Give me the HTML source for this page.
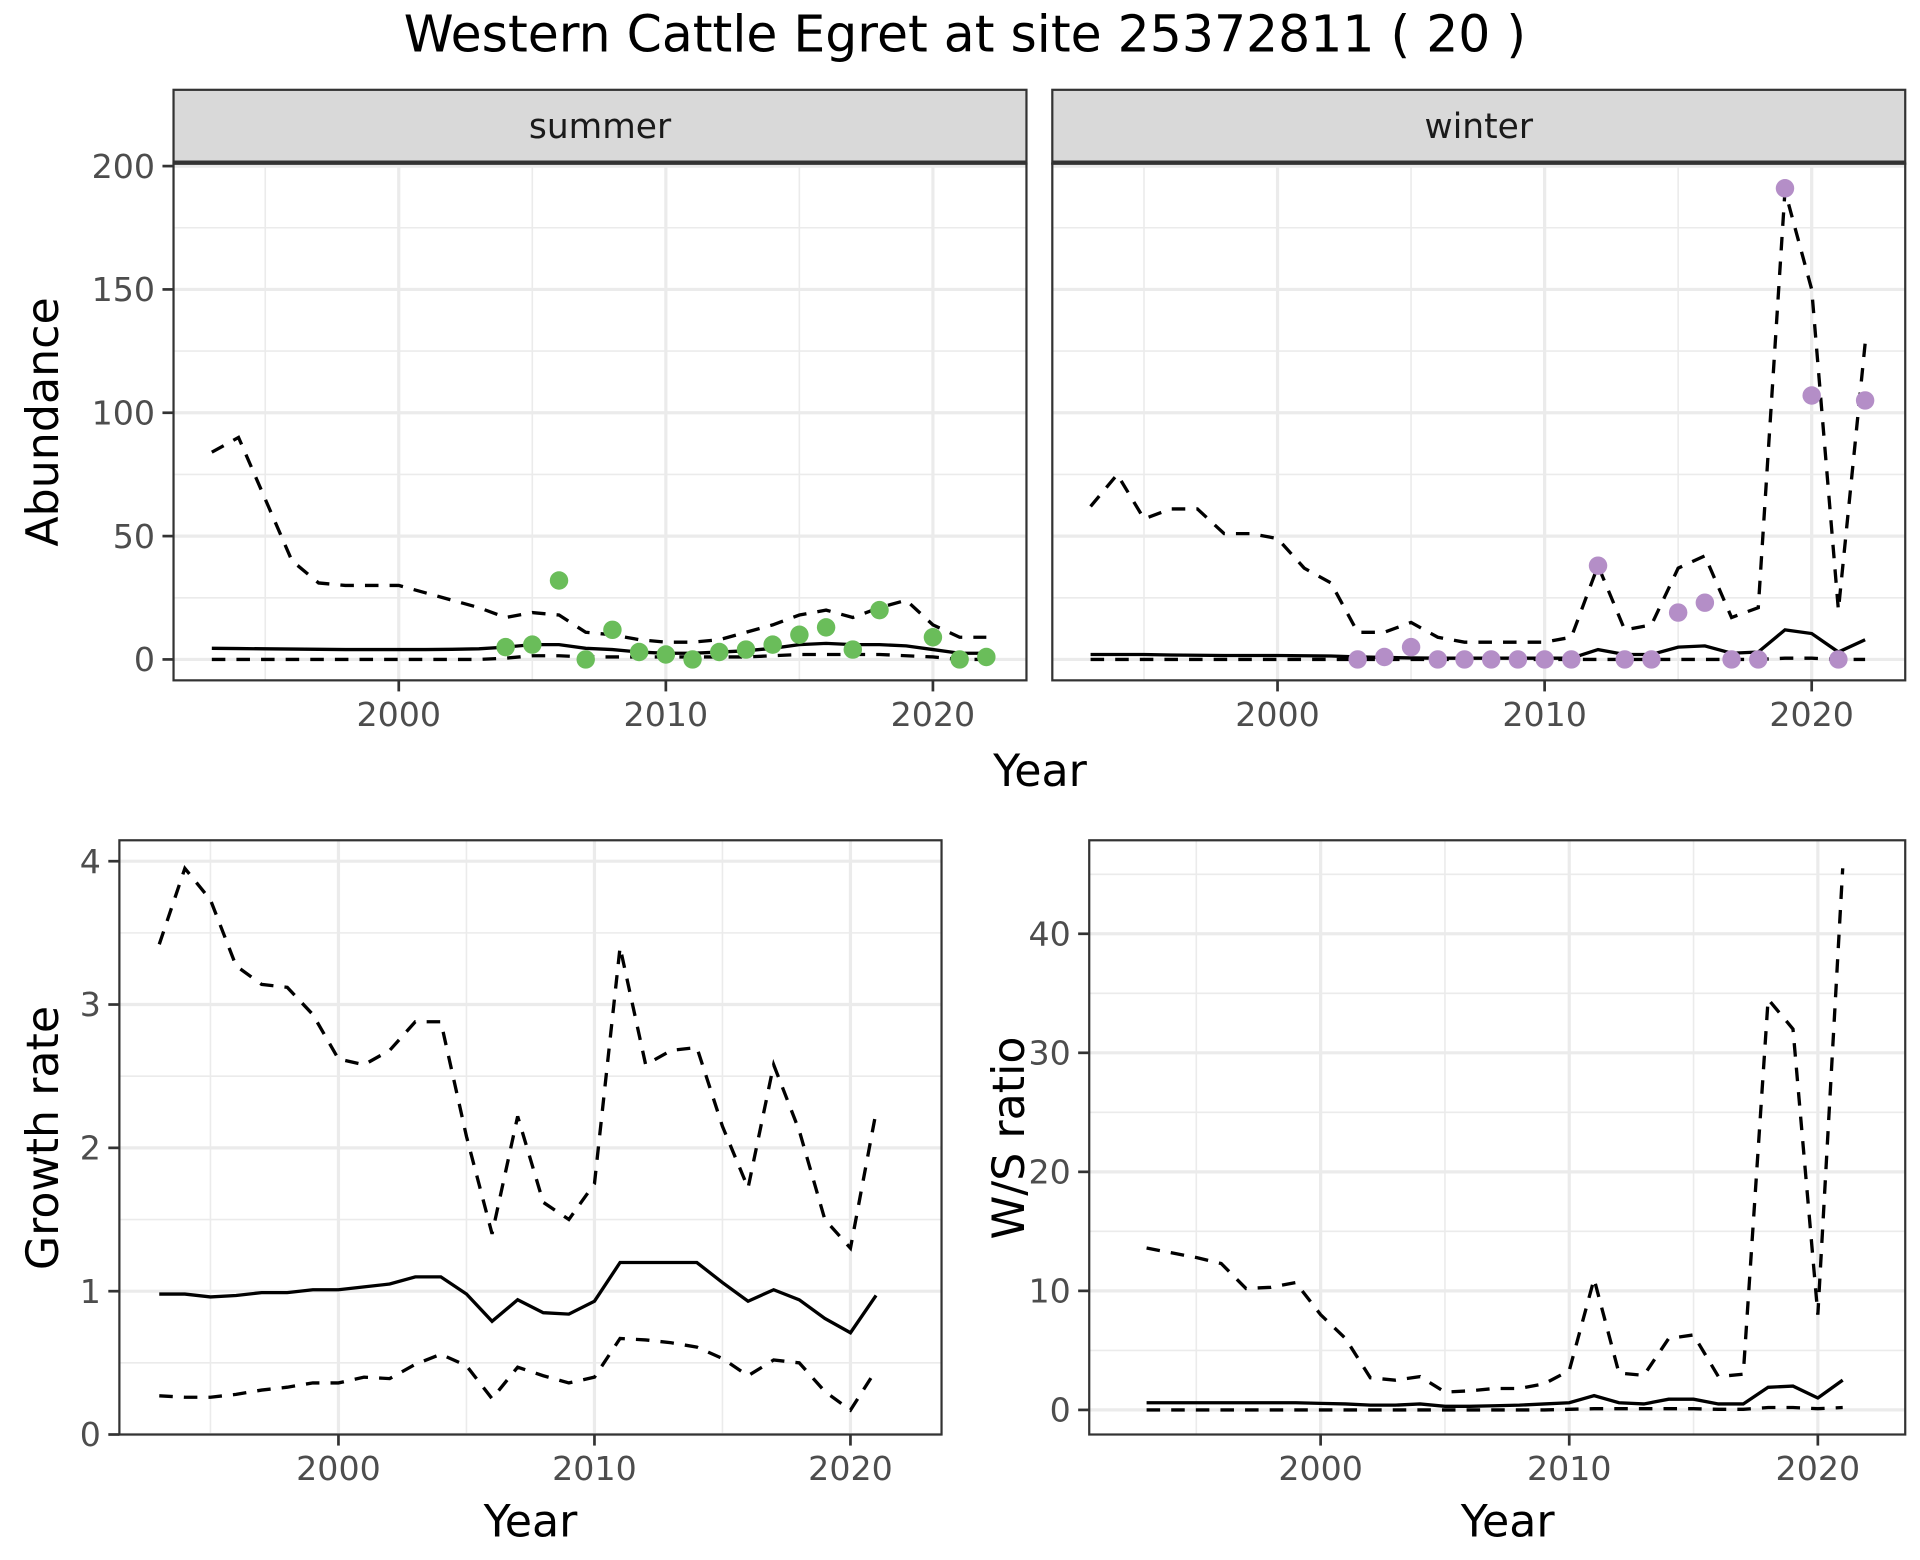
<!DOCTYPE html>
<html><head><meta charset="utf-8"><style>
html,body{margin:0;padding:0;background:#fff;}
svg{display:block;font-family:"DejaVu Sans","Liberation Sans",sans-serif;}
</style></head><body>
<svg id="chart" width="1920" height="1560" viewBox="0 0 1560 1268" preserveAspectRatio="none" xmlns="http://www.w3.org/2000/svg">
<rect width="1560" height="1268" fill="#fff"/>
<text x="784" y="42" font-size="41" text-anchor="middle" fill="#000">Western Cattle Egret at site 25372811 ( 20 )</text>
</svg>
<script>
const years = [1993,1994,1995,1996,1997,1998,1999,2000,2001,2002,2003,2004,2005,2006,2007,2008,2009,2010,2011,2012,2013,2014,2015,2016,2017,2018,2019,2020,2021,2022];
const summerUpper = [84,90,65,40,31,30,30,30,27,24,21,17,19,18,11,10,8,7,7,8,11,14,18,20,17,21,24,14,9,9];
const summerMean = [4.5,4.4,4.3,4.2,4.1,4,4,4,4,4.1,4.3,5,6,6,4.5,4,3,2.5,2.5,3,3.5,4.5,6,6.5,6,6,5.5,4,2.5,2.5];
const summerLower = [0,0,0,0,0,0,0,0,0,0,0,0.5,1.5,1.5,1,1,1,1,1,1,1,1.5,2,2,2,2,1.5,1,0,0];
const summerPtYears = [2004,2005,2006,2007,2008,2009,2010,2011,2012,2013,2014,2015,2016,2017,2018,2020,2021,2022];
const summerPts = [5,6,32,0,12,3,2,0,3,4,6,10,13,4,20,9,0,1];
const winterUpper = [62,75,57,61,61,51,51,49,37,31,11,11,15,9,7,7,7,7,9,38,12,14,37,42,17,21,190,150,20,128];
const winterMean = [2,2,2,1.8,1.7,1.6,1.6,1.6,1.5,1.4,1,0.8,0.6,0.5,0.5,0.5,0.5,0.5,0.5,4,2,2,5,5.5,2.5,3,12,10.5,3,8];
const winterLower = [0,0,0,0,0,0,0,0,0,0,0,0,0,0,0,0,0,0,0,0,0,0,0,0,0,0,0.5,0.5,0,0];
const winterPtYears = [2003,2004,2005,2006,2007,2008,2009,2010,2011,2012,2013,2014,2015,2016,2017,2018,2019,2020,2021,2022];
const winterPts = [0,1,5,0,0,0,0,0,0,38,0,0,19,23,0,0,191,107,0,105];
const grYears = [1993,1994,1995,1996,1997,1998,1999,2000,2001,2002,2003,2004,2005,2006,2007,2008,2009,2010,2011,2012,2013,2014,2015,2016,2017,2018,2019,2020,2021];
const grUpper = [3.42,3.95,3.73,3.27,3.14,3.12,2.93,2.62,2.58,2.68,2.88,2.88,2.08,1.40,2.22,1.62,1.50,1.75,3.40,2.58,2.68,2.70,2.15,1.72,2.58,2.12,1.50,1.30,2.25];
const grMean = [0.98,0.98,0.96,0.97,0.99,0.99,1.01,1.01,1.03,1.05,1.10,1.10,0.98,0.79,0.94,0.85,0.84,0.93,1.20,1.20,1.20,1.20,1.06,0.93,1.01,0.94,0.81,0.71,0.97];
const grLower = [0.27,0.26,0.26,0.28,0.31,0.33,0.36,0.36,0.40,0.39,0.49,0.56,0.48,0.25,0.47,0.41,0.36,0.40,0.67,0.66,0.64,0.61,0.53,0.41,0.52,0.50,0.30,0.17,0.45];
const wsUpper = [13.6,13.2,12.8,12.3,10.2,10.3,10.7,8,6,2.7,2.5,2.8,1.5,1.6,1.8,1.8,2.2,3.3,11,3.1,2.9,6,6.3,2.8,3,34.5,32,8,45.5];
const wsMean = [0.6,0.6,0.6,0.6,0.6,0.6,0.6,0.55,0.5,0.4,0.4,0.5,0.3,0.3,0.35,0.4,0.5,0.6,1.2,0.6,0.5,0.9,0.9,0.5,0.5,1.9,2.0,1.0,2.5];
const wsLower = [0,0,0,0,0,0,0,0,0,0,0,0,0,0,0,0,0,0.05,0.1,0.1,0.1,0.1,0.1,0.05,0.05,0.2,0.2,0.1,0.2];
const xTicks = [2000,2010,2020];
const abTicks = [0,50,100,150,200];
const grTicks = [0,1,2,3,4];
const wsTicks = [0,10,20,30,40];

const svg = document.getElementById('chart');
const NS = 'http://www.w3.org/2000/svg';
function mk(tag, attrs, parent){const e=document.createElementNS(NS,tag);for(const k in attrs)e.setAttribute(k,attrs[k]);(parent||svg).appendChild(e);return e;}
function lin(d0,d1,r0,r1){return v=>r0+(v-d0)*(r1-r0)/(d1-d0);}

function panel(p){
  const g = mk('g',{});
  
  
  const {x0,x1,y0,y1,sx,sy} = p;
  p.yMinor.forEach(v=>{const y=sy(v); if(y>y0&&y<y1) mk('line',{x1:x0,x2:x1,y1:y,y2:y,stroke:'#ebebeb','stroke-width':1.3},g);});
  [1995,2005,2015].forEach(v=>{const x=sx(v); mk('line',{x1:x,x2:x,y1:y0,y2:y1,stroke:'#ebebeb','stroke-width':1.3},g);});
  p.yTicks.forEach(v=>{const y=sy(v); mk('line',{x1:x0,x2:x1,y1:y,y2:y,stroke:'#ebebeb','stroke-width':2.6},g);});
  xTicks.forEach(v=>{const x=sx(v); mk('line',{x1:x,x2:x,y1:y0,y2:y1,stroke:'#ebebeb','stroke-width':2.6},g);});
  p.series.forEach(s=>{
    const pl = mk('polyline',{points:s.ys.map((v,i)=>sx(s.xs[i])+','+sy(v)).join(' '),fill:'none',stroke:'#000','stroke-width':2.7,'stroke-dasharray':s.dash?'11,9':'none'},g);
    
    
  });
  if(p.pts){
    p.pts.ys.forEach((v,i)=>{
      const c = mk('circle',{cx:sx(p.pts.xs[i]),cy:sy(v),r:7.5,fill:p.pts.color},g);
      
      
    });
  }
  mk('rect',{x:x0,y:y0,width:x1-x0,height:y1-y0,fill:'none',stroke:'#333','stroke-width':1.8},g);
  xTicks.forEach(v=>{const x=sx(v); mk('line',{x1:x,x2:x,y1:y1,y2:y1+9,stroke:'#333','stroke-width':2.2},g);
    const t=mk('text',{x:x,y:y1+37,'font-size':27,'text-anchor':'middle',fill:'#4d4d4d'},g); t.textContent=v;
     });
  if(p.showY){p.yTicks.forEach(v=>{const y=sy(v); mk('line',{x1:x0-9,x2:x0,y1:y,y2:y,stroke:'#333','stroke-width':2.2},g);
    const t=mk('text',{x:x0-15,y:y+9.5,'font-size':27,'text-anchor':'end',fill:'#4d4d4d'},g); t.textContent=v;
     });}
  if(p.strip){
    const r=mk('rect',{x:x0,y:y0-60,width:x1-x0,height:60,fill:'#d9d9d9',stroke:'#333','stroke-width':1.8},g);
     
    mk('line',{x1:x0,x2:x1,y1:y0-1,y2:y0-1,stroke:'#333','stroke-width':3},g);
    const t=mk('text',{x:(x0+x1)/2,y:y0-21,'font-size':28,'text-anchor':'middle',fill:'#1a1a1a'},g); t.textContent=p.strip;
     
  }
}

const abY = lin(0,200,536,135);
panel({name:'summer-panel',x0:141,x1:834,y0:133,y1:553,sx:lin(2000,2020,324,758),sy:abY,yTicks:abTicks,yMinor:[25,75,125,175,225],showY:true,strip:'summer',
  series:[{name:'summer-upper',xs:years,ys:summerUpper,dash:true},{name:'summer-mean',xs:years,ys:summerMean},{name:'summer-lower',xs:years,ys:summerLower,dash:true}],
  pts:{xs:summerPtYears,ys:summerPts,color:'#6abd5a'}});
panel({name:'winter-panel',x0:855,x1:1548,y0:133,y1:553,sx:lin(2000,2020,1038,1472),sy:abY,yTicks:abTicks,yMinor:[25,75,125,175,225],showY:false,strip:'winter',
  series:[{name:'winter-upper',xs:years,ys:winterUpper,dash:true},{name:'winter-mean',xs:years,ys:winterMean},{name:'winter-lower',xs:years,ys:winterLower,dash:true}],
  pts:{xs:winterPtYears,ys:winterPts,color:'#b48ec7'}});
panel({name:'growth-rate-panel',x0:97,x1:765,y0:683,y1:1166,sx:lin(2000,2020,275,691),sy:lin(0,4,1166,700),yTicks:grTicks,yMinor:[0.5,1.5,2.5,3.5],showY:true,
  series:[{name:'growth-upper',xs:grYears,ys:grUpper,dash:true},{name:'growth-mean',xs:grYears,ys:grMean},{name:'growth-lower',xs:grYears,ys:grLower,dash:true}]});
panel({name:'ws-ratio-panel',x0:885,x1:1548,y0:683,y1:1166,sx:lin(2000,2020,1073,1477),sy:lin(0,40,1146,759),yTicks:wsTicks,yMinor:[5,15,25,35,45],showY:true,
  series:[{name:'ws-upper',xs:grYears,ys:wsUpper,dash:true},{name:'ws-mean',xs:grYears,ys:wsMean},{name:'ws-lower',xs:grYears,ys:wsLower,dash:true}]});

function label(txt,x,y,rot,name){const t=mk('text',{x:x,y:y,'font-size':36,'text-anchor':'middle',fill:'#000',transform:rot?`rotate(-90 ${x} ${y})`:''});t.textContent=txt;
   }
label('Year',845,639,false,'x-axis-title-top');
label('Abundance',47,343,true,'y-axis-title-abundance');
label('Growth rate',47,925,true,'y-axis-title-growth');
label('W/S ratio',832,925,true,'y-axis-title-ws');
label('Year',431,1249,false,'x-axis-title-growth');
label('Year',1225,1249,false,'x-axis-title-ws');
</script>
</body></html>
